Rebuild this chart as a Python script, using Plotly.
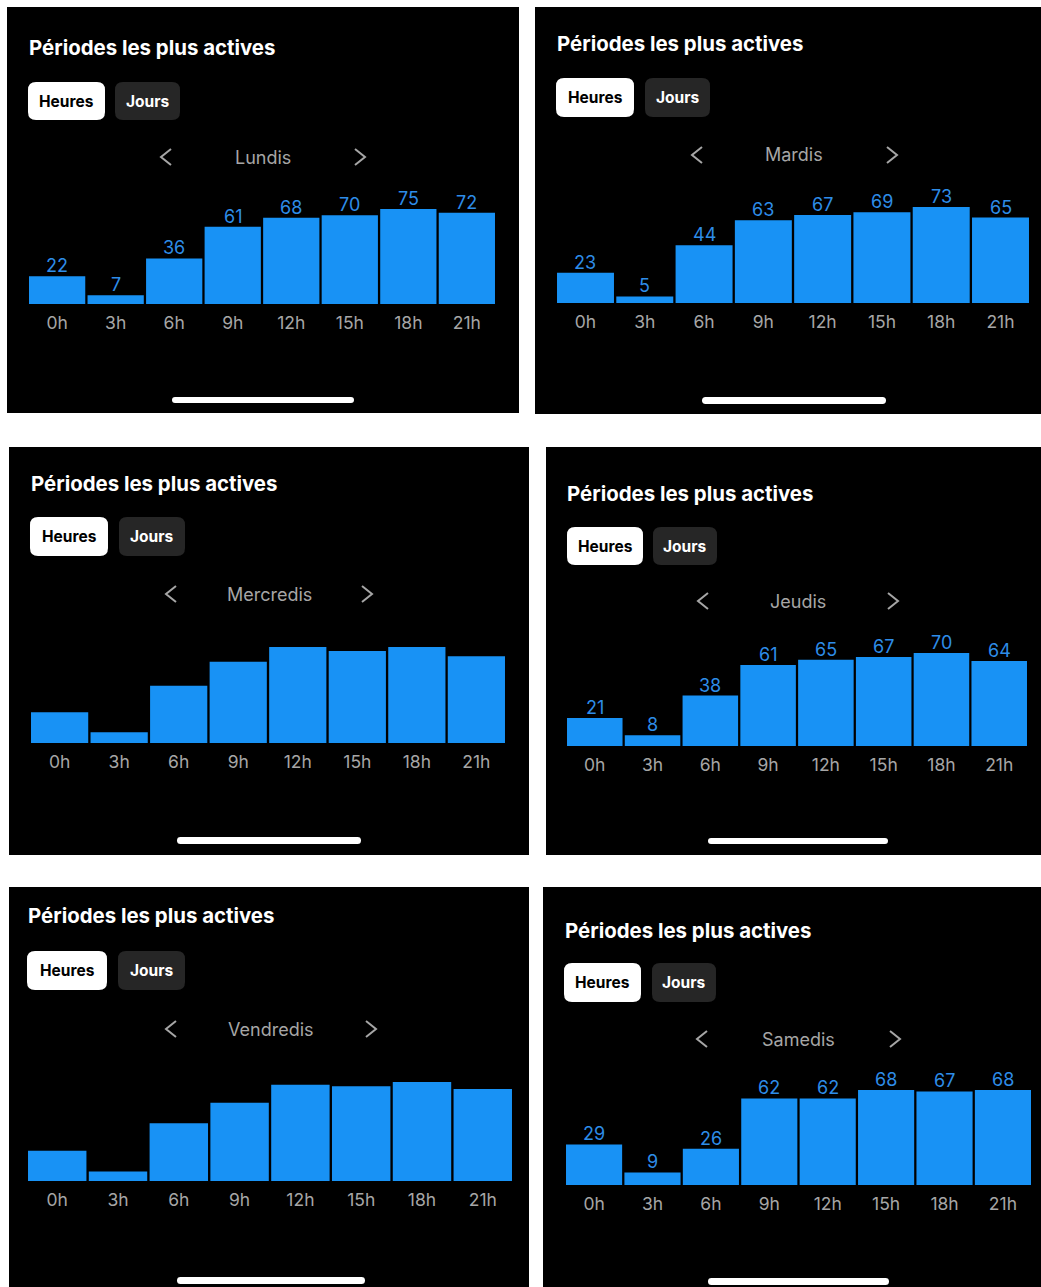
import plotly.graph_objects as go

W, H = 1041, 1287

# ---- data -------------------------------------------------------------
hours = ["0h", "3h", "6h", "9h", "12h", "15h", "18h", "21h"]
days = ["Lundis", "Mardis", "Mercredis", "Jeudis", "Vendredis", "Samedis"]
lundis = [22, 7, 36, 61, 68, 70, 75, 72]
mardis = [23, 5, 44, 63, 67, 69, 73, 65]
mercredis = [23, 8, 43, 61, 72, 69, 72, 65]
jeudis = [21, 8, 38, 61, 65, 67, 70, 64]
vendredis = [22, 7, 42, 57, 70, 69, 72, 67]
samedis = [29, 9, 26, 62, 62, 68, 67, 68]
series = [lundis, mardis, mercredis, jeudis, vendredis, samedis]
show_values = [True, True, False, True, False, True]

title_text = "Périodes les plus actives"
tab_labels = ["Heures", "Jours"]

# ---- card geometry (pixels) -------------------------------------------
cards = [
    dict(box=(7, 7, 519, 413), title=(29, 48), tab1=(28, 82, 105, 120), tab2=(115, 82, 180, 120),
         nav_y=157, nav=(166, 263, 360), bars=(29, 495), base=304, maxpx=95, home=(172, 354, 397, 403)),
    dict(box=(535, 7, 1041, 414), title=(557, 44), tab1=(556, 78, 634, 117), tab2=(645, 78, 710, 117),
         nav_y=155, nav=(697, 794, 892), bars=(557, 1029), base=303, maxpx=96, home=(702, 886, 397, 404)),
    dict(box=(9, 447, 529, 855), title=(31, 483), tab1=(30, 517, 108, 556), tab2=(119, 517, 185, 556),
         nav_y=594, nav=(171, 269, 367), bars=(31, 505), base=743, maxpx=96, home=(177, 361, 837, 844)),
    dict(box=(546, 447, 1041, 855), title=(567, 493), tab1=(567, 527, 643, 565), tab2=(653, 527, 717, 565),
         nav_y=601, nav=(703, 798, 893), bars=(567, 1027), base=746, maxpx=93, home=(708, 888, 838, 844)),
    dict(box=(9, 887, 529, 1287), title=(28, 916), tab1=(27, 951, 107, 990), tab2=(118, 951, 185, 990),
         nav_y=1029, nav=(171, 271, 371), bars=(28, 512), base=1181, maxpx=99, home=(177, 365, 1277, 1284)),
    dict(box=(543, 887, 1041, 1287), title=(565, 930), tab1=(564, 963, 641, 1002), tab2=(652, 963, 716, 1002),
         nav_y=1039, nav=(702, 798, 895), bars=(566, 1031), base=1185, maxpx=95, home=(708, 889, 1278, 1285)),
]

BAR_BLUE = "#1892F5"
LABEL_BLUE = "#2E8DE8"
GREY = "#A6A6A6"
FONT = "Inter"
PLOT_H = 130
BARGAP = 0.039


def fx(x):
    return x / W


def fy(y):
    return 1 - y / H


def rounded_path(x0, y0, x1, y1, r):
    pts = [
        ("M", [(x0 + r, y0)]), ("L", [(x1 - r, y0)]), ("Q", [(x1, y0), (x1, y0 + r)]),
        ("L", [(x1, y1 - r)]), ("Q", [(x1, y1), (x1 - r, y1)]), ("L", [(x0 + r, y1)]),
        ("Q", [(x0, y1), (x0, y1 - r)]), ("L", [(x0, y0 + r)]), ("Q", [(x0, y0), (x0 + r, y0)]),
    ]
    out = []
    for cmd, ps in pts:
        out.append(cmd + " " + " ".join(f"{fx(px):.6f},{fy(py):.6f}" for px, py in ps))
    return " ".join(out) + " Z"


fig = go.Figure()
shapes = []
annotations = []
layout_axes = {}

for i, (card, vals, day, show) in enumerate(zip(cards, series, days, show_values)):
    n = i + 1
    x0, y0, x1, y1 = card["box"]
    shapes.append(dict(type="rect", xref="paper", yref="paper", layer="below",
                       x0=fx(x0), x1=fx(x1), y0=fy(y1), y1=fy(y0),
                       fillcolor="black", line=dict(width=0)))

    # title
    tx, ty = card["title"]
    annotations.append(dict(text=title_text, x=fx(tx - 2), y=fy(ty), xref="paper", yref="paper",
                            xanchor="left", yanchor="middle", showarrow=False,
                            font=dict(family=FONT, size=20.4, color="white", weight=700)))

    # tabs
    for (bx0, by0, bx1, by1), label, fill, col in [
        (card["tab1"], tab_labels[0], "white", "black"),
        (card["tab2"], tab_labels[1], "#262626", "white"),
    ]:
        shapes.append(dict(type="path", xref="paper", yref="paper", layer="above",
                           path=rounded_path(bx0, by0, bx1, by1, 8),
                           fillcolor=fill, line=dict(width=0)))
        annotations.append(dict(text=label, x=fx((bx0 + bx1) / 2), y=fy((by0 + by1) / 2),
                                xref="paper", yref="paper", xanchor="center", yanchor="middle",
                                showarrow=False,
                                font=dict(family=FONT, size=15.5, color=col, weight=700)))

    # day navigation
    ny = card["nav_y"]
    lx, cx, rx = card["nav"]
    annotations.append(dict(text=day, x=fx(cx), y=fy(ny), xref="paper", yref="paper",
                            xanchor="center", yanchor="middle", showarrow=False,
                            font=dict(family=FONT, size=18, color=GREY)))
    for chx, d in [(lx, 1), (rx, -1)]:
        path = (f"M {fx(chx + 5 * d):.6f},{fy(ny - 8):.6f} "
                f"L {fx(chx - 5 * d):.6f},{fy(ny):.6f} "
                f"L {fx(chx + 5 * d):.6f},{fy(ny + 8):.6f}")
        shapes.append(dict(type="path", xref="paper", yref="paper", layer="above", path=path,
                           fillcolor="rgba(0,0,0,0)", line=dict(color=GREY, width=2)))

    # home indicator
    hx0, hx1, hy0, hy1 = card["home"]
    shapes.append(dict(type="path", xref="paper", yref="paper", layer="above",
                       path=rounded_path(hx0, hy0, hx1, hy1, (hy1 - hy0) / 2),
                       fillcolor="white", line=dict(width=0)))

    # bars
    bl, br = card["bars"]
    slot = (br - bl) / 8
    pad = slot * BARGAP / 2
    base = card["base"]
    ymax = max(vals) * PLOT_H / card["maxpx"]
    fig.add_trace(go.Bar(
        x=hours, y=vals, xaxis=f"x{n}", yaxis=f"y{n}",
        marker=dict(color=BAR_BLUE, line=dict(width=0)),
        cliponaxis=False, hoverinfo="skip", showlegend=False,
    ))
    # value labels sitting on top of each bar
    if show:
        for h, v in zip(hours, vals):
            annotations.append(dict(text=str(v), x=h, y=v, xref=f"x{n}", yref=f"y{n}",
                                    xanchor="center", yanchor="bottom", yshift=-2,
                                    showarrow=False,
                                    font=dict(family=FONT, size=18, color=LABEL_BLUE)))
    suffix = "" if n == 1 else str(n)
    layout_axes[f"xaxis{suffix}"] = dict(
        domain=[fx(bl - pad), fx(br + pad)], anchor=f"y{n}", type="category",
        range=[-0.5, 7.5], showgrid=False, zeroline=False, showline=False,
        ticks="outside", ticklen=3, tickcolor="rgba(0,0,0,0)",
        tickfont=dict(family=FONT, size=17.5, color=GREY), fixedrange=True,
    )
    layout_axes[f"yaxis{suffix}"] = dict(
        domain=[fy(base), fy(base - PLOT_H)], anchor=f"x{n}", range=[0, ymax],
        visible=False, fixedrange=True,
    )

fig.update_layout(
    width=W, height=H, autosize=False,
    margin=dict(l=0, r=0, t=0, b=0),
    paper_bgcolor="white", plot_bgcolor="rgba(0,0,0,0)",
    bargap=BARGAP, shapes=shapes, annotations=annotations,
    **layout_axes,
)

fig.write_html("out.html", config={"displayModeBar": False})
